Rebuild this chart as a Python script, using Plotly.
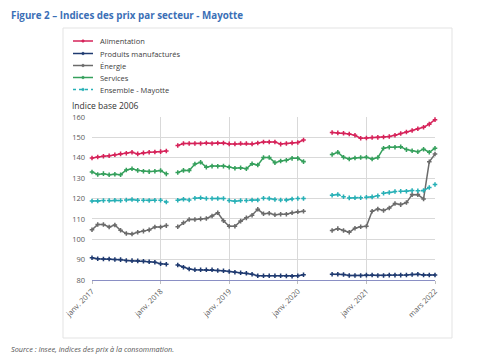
import plotly.graph_objects as go

# ---------------- data ----------------
N_MONTHS = 61  # monthly positions from janv. 2017 to the last point
tick_positions = [0, 12, 24, 36, 48, 60]
tick_labels = ["janv. 2017", "janv. 2018", "janv. 2019", "janv. 2020", "janv. 2021", "mars 2022"]

alimentation = (
    [139.9, 140.4, 140.7, 141.0, 141.5, 141.9, 142.2, 142.7, 141.9, 142.4, 142.7, 142.8, 143.0, 143.3]
    + [None]
    + [146.0, 147.0, 147.0, 147.0, 147.0, 147.2, 147.0, 147.2, 147.2, 146.8, 146.8, 147.0, 147.0, 146.8,
       147.2, 147.7, 147.7, 147.7, 146.7, 147.0, 147.3, 147.5, 148.7]
    + [None] * 4
    + [152.4, 152.2, 152.0, 151.7, 151.0, 149.6, 149.7, 149.9, 150.0, 150.2, 150.4, 151.0, 151.9, 152.6,
       153.4, 154.2, 155.0, 156.5, 158.7]
)

produits_manufactures = (
    [90.9, 90.4, 90.3, 90.3, 90.1, 90.0, 89.6, 89.5, 89.4, 89.2, 89.0, 88.7, 88.0, 87.7]
    + [None]
    + [87.4, 86.3, 85.4, 85.0, 85.0, 85.0, 85.0, 84.7, 84.5, 84.2, 83.8, 83.6, 83.3, 82.8,
       82.1, 82.1, 82.1, 82.1, 82.1, 82.0, 81.8, 82.1, 82.6]
    + [None] * 4
    + [82.8, 82.8, 82.7, 82.2, 82.2, 82.2, 82.4, 82.5, 82.2, 82.2, 82.4, 82.4, 82.4, 82.5,
       82.7, 82.8, 82.5, 82.5, 82.5]
)

energie = (
    [104.7, 107.2, 107.2, 106.0, 107.0, 104.4, 102.8, 102.6, 103.4, 104.0, 104.6, 106.0, 106.0, 106.7]
    + [None]
    + [106.1, 108.1, 109.7, 109.7, 110.0, 110.2, 111.4, 113.0, 109.1, 106.4, 106.4, 108.9, 110.5, 111.8,
       114.7, 112.5, 112.8, 112.0, 112.3, 112.3, 113.0, 113.5, 113.7]
    + [None] * 4
    + [104.3, 105.2, 104.3, 103.4, 105.4, 106.1, 106.4, 113.7, 114.8, 114.1, 115.3, 117.5, 117.0, 118.0,
       121.9, 121.9, 119.8, 138.0, 141.8]
)

services = (
    [133.0, 131.8, 132.2, 131.7, 131.9, 131.7, 134.0, 134.6, 133.8, 133.4, 133.2, 133.4, 133.7, 132.1]
    + [None]
    + [132.8, 133.8, 133.8, 136.9, 137.8, 135.4, 135.9, 135.8, 135.9, 135.4, 134.8, 135.1, 134.6, 137.1,
       136.4, 140.1, 140.1, 137.6, 138.4, 138.8, 139.7, 139.7, 138.1]
    + [None] * 4
    + [141.6, 142.7, 140.2, 139.4, 139.9, 140.1, 140.2, 139.4, 140.1, 144.7, 145.2, 145.2, 145.4, 144.0,
       143.4, 142.9, 144.2, 142.7, 144.7]
)

ensemble = (
    [118.8, 118.8, 119.0, 119.0, 119.1, 119.0, 119.3, 119.5, 119.1, 119.1, 119.0, 119.1, 119.1, 118.3]
    + [None]
    + [119.1, 119.6, 119.3, 120.1, 120.4, 120.0, 120.0, 120.0, 120.0, 119.0, 118.6, 119.0, 119.0, 119.3,
       119.3, 120.1, 120.0, 119.5, 119.3, 119.3, 119.8, 120.0, 120.0]
    + [None] * 4
    + [121.6, 122.0, 120.9, 120.3, 120.4, 120.4, 120.6, 120.8, 121.3, 122.6, 122.9, 123.4, 123.6, 123.6,
       123.9, 123.8, 123.9, 125.4, 126.9]
)

series_names = ["Alimentation", "Produits manufacturés", "Énergie", "Services", "Ensemble - Mayotte"]
series_values = [alimentation, produits_manufactures, energie, services, ensemble]

# ---------------- styles ----------------
colors = ["#d6235a", "#1f3a70", "#6b6b6b", "#35a05c", "#27b0b6"]
dashes = ["solid", "solid", "solid", "solid", "dash"]
FONT = "Open Sans"

x = list(range(N_MONTHS))

fig = go.Figure()
for name, vals, col, dash in zip(series_names, series_values, colors, dashes):
    fig.add_trace(go.Scatter(
        x=x, y=vals, name=name, mode="lines+markers",
        line=dict(color=col, width=1.5, dash=dash),
        marker=dict(color=col, size=3.8, symbol="cross"),
        connectgaps=False, cliponaxis=False, showlegend=False,
    ))

# the page body adds an 8px margin: work in screen pixels, shift by it
OFF = 8
W, H = 485 - OFF, 360 - OFF
L, R, T, B = 92 - OFF, 435 - OFF, 117 - OFF, 280 - OFF
pw, ph = R - L, B - T


def px(xs):
    return (xs - OFF - L) / pw


def py(ys):
    return (B - (ys - OFF)) / ph


shapes = []
annotations = []

# outer frame of the chart
shapes.append(dict(type="rect", xref="paper", yref="paper",
                   x0=px(63), x1=px(452), y0=py(338), y1=py(28),
                   line=dict(color="#e3e3e3", width=1), fillcolor="rgba(0,0,0,0)", layer="below"))

# manual legend (compact spacing as in the reference)
legend_rows = [41, 53.5, 65.5, 77.5, 89.5]
for name, col, dash, yr in zip(series_names, colors, dashes, legend_rows):
    shapes.append(dict(type="line", xref="paper", yref="paper",
                       x0=px(73), x1=px(93), y0=py(yr), y1=py(yr),
                       line=dict(color=col, width=1.5, dash="dot" if dash == "dash" else "solid")))
    shapes.append(dict(type="circle", xref="paper", yref="paper",
                       x0=px(81.7), x1=px(84.3), y0=py(yr + 1.3), y1=py(yr - 1.3),
                       line=dict(color=col, width=0.5), fillcolor=col))
    annotations.append(dict(text=name, xref="paper", yref="paper", x=px(98), y=py(yr),
                            xanchor="left", yanchor="middle", showarrow=False,
                            font=dict(family=FONT, size=7.5, color="#404040")))

# axis title
annotations.append(dict(text="Indice base 2006", xref="paper", yref="paper", x=px(70), y=py(105),
                        xanchor="left", yanchor="middle", showarrow=False,
                        font=dict(family=FONT, size=8.5, color="#333333")))

# figure title
annotations.append(dict(text="<b>Figure 2 – Indices des prix par secteur - Mayotte</b>",
                        xref="paper", yref="paper", x=px(9), y=py(15),
                        xanchor="left", yanchor="middle", showarrow=False,
                        font=dict(family=FONT, size=9.8, color="#3b6fb6")))

# source
annotations.append(dict(text="<i>Source : Insee, indices des prix à la consommation.</i>",
                        xref="paper", yref="paper", x=px(9), y=py(349),
                        xanchor="left", yanchor="middle", showarrow=False,
                        font=dict(family=FONT, size=7.3, color="#555555")))

fig.update_layout(
    width=W, height=H,
    margin=dict(l=L, r=W - R, t=T, b=H - B, pad=0),
    plot_bgcolor="white", paper_bgcolor="white",
    font=dict(family=FONT, size=8, color="#595959"),
    shapes=shapes, annotations=annotations,
    showlegend=False,
)
fig.update_xaxes(
    range=[0, N_MONTHS - 1], tickmode="array", tickvals=tick_positions, ticktext=tick_labels,
    tickangle=-45, showgrid=True, gridcolor="#d9d9d9", gridwidth=1,
    showline=True, linecolor="#8a8fc4", linewidth=1,
    ticks="outside", ticklen=3, tickcolor="#bfbfbf",
    tickfont=dict(family=FONT, size=7.5, color="#595959"), zeroline=False,
)
fig.update_yaxes(
    range=[80, 160], dtick=10, showgrid=True, gridcolor="#d9d9d9", gridwidth=1,
    zeroline=False, showline=False, ticks="", ticklabelstandoff=6,
    tickfont=dict(family=FONT, size=7.5, color="#595959"),
)

fig.write_html("out.html")
